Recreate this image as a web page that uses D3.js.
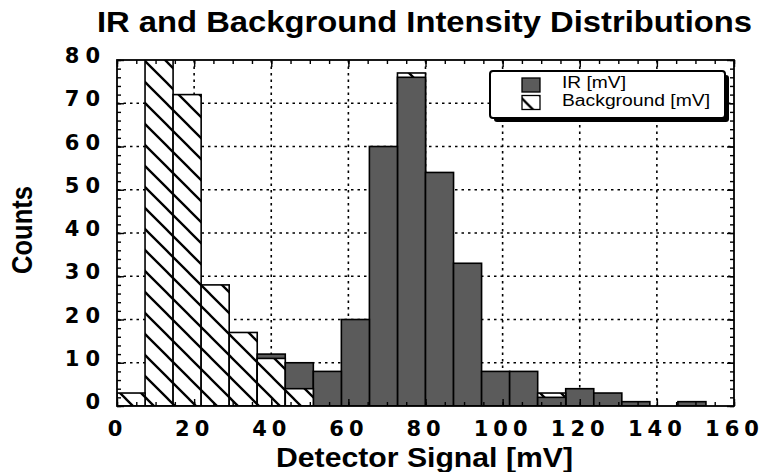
<!DOCTYPE html>
<html><head><meta charset="utf-8">
<script src="https://cdn.jsdelivr.net/npm/d3@7"></script>
<style>body{margin:0;background:#fff}svg{display:block}</style>
</head><body>
<svg id="c" width="764" height="472"></svg>
<script>
// ---- data ----
const binStarts = [0, 7.27, 14.55, 21.82, 29.09, 36.36, 43.64, 50.91, 58.18, 65.45, 72.73,
                   80.00, 87.27, 94.55, 101.82, 109.09, 116.36, 123.64, 130.91, 138.18, 145.45, 152.73];
const binWidth = 7.2727;
const irCounts = [0, 0, 0, 0, 0, 12, 10, 8, 20, 60, 76, 54, 33, 8, 8, 2, 4, 3, 1, 0, 1, 0];
const bgCounts = [3, 84, 72, 28, 17, 11, 4, 0, 0, 0, 77, 0, 0, 0, 0, 3, 0, 0, 0, 0, 0, 0];
const xTickValues = [0, 20, 40, 60, 80, 100, 120, 140, 160];
const yTickValues = [0, 10, 20, 30, 40, 50, 60, 70, 80];
const seriesNames = ["IR [mV]", "Background [mV]"];
const titleText = "IR and Background Intensity Distributions";
const xTitle = "Detector Signal [mV]";
const yTitle = "Counts";

// ---- setup ----
const svg = d3.select("#c");
const m = {l: 117, r: 734, t: 60, b: 406};
const x = d3.scaleLinear().domain([0, 160]).range([m.l, m.r]);
const y = d3.scaleLinear().domain([0, 80]).range([m.b, m.t]);
const GRAY = "#5b5b5b";

const defs = svg.append("defs");
const pat = defs.append("pattern").attr("id", "hatch").attr("patternUnits", "userSpaceOnUse")
  .attr("width", 21).attr("height", 21);
pat.append("rect").attr("width", 21).attr("height", 21).attr("fill", "#fff");
pat.append("path").attr("d", "M0,0L21,21M-3,18L3,24M18,-3L24,3")
  .attr("stroke", "#000").attr("stroke-width", 2.3);
defs.append("clipPath").attr("id", "plotclip").append("rect")
  .attr("x", m.l).attr("y", m.t).attr("width", m.r - m.l).attr("height", m.b - m.t);

// gridlines
const grid = svg.append("g").attr("stroke", "#000").attr("stroke-width", 1.6)
  .attr("stroke-dasharray", "2.5,4");
grid.selectAll("line.gx").data(xTickValues.filter(d => d > 0 && d < 160)).join("line")
  .attr("x1", d => x(d)).attr("x2", d => x(d)).attr("y1", m.t).attr("y2", m.b);
grid.selectAll("line.gy").data(yTickValues.filter(d => d > 0 && d < 80)).join("line")
  .attr("x1", m.l).attr("x2", m.r).attr("y1", d => y(d)).attr("y2", d => y(d));

// bars: taller drawn first in each bin
const bars = [];
binStarts.forEach((s, i) => {
  if (irCounts[i] > 0) bars.push({s, v: irCounts[i], k: "ir"});
  if (bgCounts[i] > 0) bars.push({s, v: bgCounts[i], k: "bg"});
});
bars.sort((a, b) => b.v - a.v);
svg.append("g").attr("clip-path", "url(#plotclip)")
  .selectAll("rect").data(bars).join("rect")
  .attr("x", d => x(d.s)).attr("width", d => x(d.s + binWidth) - x(d.s))
  .attr("y", d => y(d.v)).attr("height", d => y(0) - y(d.v))
  .attr("fill", d => d.k === "ir" ? GRAY : "url(#hatch)")
  .attr("stroke", "#000").attr("stroke-width", 1.6);

// axes ticks
const minorX = d3.range(0, 161, 5), minorY = d3.range(0, 81, 2);
function tickAxis(axis, tr) {
  const g = svg.append("g").attr("transform", tr).call(axis);
  g.select(".domain").remove();
  g.selectAll(".tick line").attr("stroke", "#000").attr("stroke-width", 1.4);
  return g;
}
tickAxis(d3.axisBottom(x).tickValues(minorX).tickSizeInner(-4).tickSizeOuter(0).tickFormat(""), `translate(0,${m.b})`);
tickAxis(d3.axisTop(x).tickValues(minorX).tickSizeInner(-4).tickSizeOuter(0).tickFormat(""), `translate(0,${m.t})`);
tickAxis(d3.axisLeft(y).tickValues(minorY).tickSizeInner(-4).tickSizeOuter(0).tickFormat(""), `translate(${m.l},0)`);
tickAxis(d3.axisRight(y).tickValues(minorY).tickSizeInner(-4).tickSizeOuter(0).tickFormat(""), `translate(${m.r},0)`);
tickAxis(d3.axisTop(x).tickValues(xTickValues).tickSizeInner(-7).tickSizeOuter(0).tickFormat(""), `translate(0,${m.t})`);
tickAxis(d3.axisRight(y).tickValues(yTickValues).tickSizeInner(-7).tickSizeOuter(0).tickFormat(""), `translate(${m.r},0)`);

const gx = tickAxis(d3.axisBottom(x).tickValues(xTickValues).tickSizeInner(-7).tickSizeOuter(0).tickPadding(15), `translate(0,${m.b})`);
gx.selectAll("text").attr("font-family", "DejaVu Sans").attr("font-weight", "bold")
  .attr("font-size", 21).attr("fill", "#000").attr("letter-spacing", 5);
const gy = tickAxis(d3.axisLeft(y).tickValues(yTickValues).tickSizeInner(-7).tickSizeOuter(0).tickPadding(11), `translate(${m.l},0)`);
gy.selectAll("text").attr("font-family", "DejaVu Sans").attr("font-weight", "bold")
  .attr("font-size", 21).attr("fill", "#000").attr("letter-spacing", 6).attr("y", -4);

// frame
svg.append("rect").attr("x", m.l).attr("y", m.t).attr("width", m.r - m.l).attr("height", m.b - m.t)
  .attr("fill", "none").attr("stroke", "#000").attr("stroke-width", 1.8);

// titles
const font = "Liberation Sans, Arial, sans-serif";
svg.append("text").attr("x", 97).attr("y", 32).text(titleText)
  .attr("font-family", font).attr("font-weight", "bold").attr("font-size", 30)
  .attr("textLength", 655).attr("lengthAdjust", "spacingAndGlyphs");
svg.append("text").attr("x", 276).attr("y", 467).text(xTitle)
  .attr("font-family", font).attr("font-weight", "bold").attr("font-size", 28)
  .attr("textLength", 297).attr("lengthAdjust", "spacingAndGlyphs");
svg.append("text").attr("transform", "translate(32,274) rotate(-90)").text(yTitle)
  .attr("font-family", font).attr("font-weight", "bold").attr("font-size", 29)
  .attr("textLength", 88).attr("lengthAdjust", "spacingAndGlyphs");

// legend
const lg = svg.append("g");
lg.append("rect").attr("x", 494).attr("y", 75).attr("width", 235).attr("height", 47).attr("rx", 3)
  .attr("fill", "#000");
lg.append("rect").attr("x", 490).attr("y", 71).attr("width", 235).attr("height", 47).attr("rx", 3)
  .attr("fill", "#fff").attr("stroke", "#000").attr("stroke-width", 2);
const items = [{name: seriesNames[0], fill: GRAY}, {name: seriesNames[1], fill: "url(#hatch)"}];
const li = lg.selectAll("g.item").data(items).join("g").attr("class", "item")
  .attr("transform", (d, i) => `translate(0,${i * 17.5})`);
li.append("rect").attr("x", 522).attr("y", 78).attr("width", 18).attr("height", 14)
  .attr("fill", d => d.fill).attr("stroke", "#000").attr("stroke-width", 1.3);
li.append("text").attr("x", 562).attr("y", 88).text(d => d.name)
  .attr("font-family", font).attr("font-size", 16)
  .attr("textLength", (d, i) => i === 0 ? 64 : 148).attr("lengthAdjust", "spacingAndGlyphs");
</script>
</body></html>
